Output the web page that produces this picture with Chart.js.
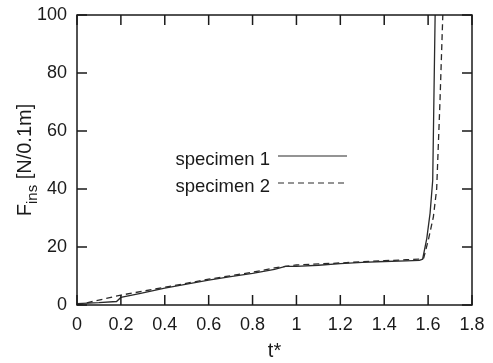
<!DOCTYPE html>
<html>
<head>
<meta charset="utf-8">
<script src="https://cdn.jsdelivr.net/npm/chart.js@4/dist/chart.umd.min.js"></script>
<style>
  body { margin: 0; background: #fff; }
  #chart { display: block; }
</style>
</head>
<body>
<canvas id="chart" width="493" height="363"></canvas>
<script>
// Insertion force vs normalised time, two specimens
const tSpecimen1 = [0, 0.1, 0.18, 0.2, 0.29, 0.4, 0.5, 0.6, 0.7, 0.8, 0.9, 0.95, 1.0, 1.1, 1.2, 1.3, 1.4, 1.5, 1.56, 1.575, 1.594, 1.609, 1.621, 1.632];
const fSpecimen1 = [0.5, 0.8, 1.2, 2.6, 4.0, 5.8, 7.2, 8.6, 9.8, 10.9, 12.3, 13.3, 13.3, 13.7, 14.3, 14.7, 15.0, 15.2, 15.4, 15.8, 23, 31.7, 43, 100];
const tSpecimen2 = [0, 0.2, 0.4, 0.6, 0.8, 0.9, 1.0, 1.2, 1.4, 1.5, 1.56, 1.58, 1.601, 1.624, 1.639, 1.654, 1.667];
const fSpecimen2 = [0, 3.4, 6.1, 8.9, 11.3, 12.8, 13.8, 14.5, 15.3, 15.6, 15.8, 16.2, 22.4, 30.4, 40, 70, 100];
const seriesLabels = ['specimen 1', 'specimen 2'];
const xTicks = [0, 0.2, 0.4, 0.6, 0.8, 1, 1.2, 1.4, 1.6, 1.8];
const yTicks = [0, 20, 40, 60, 80, 100];

const FONT = "'Liberation Sans', Arial, Helvetica, sans-serif";
const INK = '#1a1a1a';

function toPoints(xs, ys) {
    return xs.map((x, i) => ({ x: x, y: ys[i] }));
}

// frame, inside ticks on all four sides, legend and axis titles
const framePlugin = {
    id: 'frame',
    afterDraw(chart) {
        const ctx = chart.ctx;
        const a = chart.chartArea;
        const xs = chart.scales.x;
        const ys = chart.scales.y;
        const tick = 10;
        ctx.save();
        ctx.strokeStyle = INK;
        ctx.lineWidth = 1.5;
        ctx.strokeRect(a.left, a.top, a.right - a.left, a.bottom - a.top);
        ctx.beginPath();
        xTicks.forEach(v => {
            const px = xs.getPixelForValue(v);
            ctx.moveTo(px, a.bottom); ctx.lineTo(px, a.bottom - tick);
            ctx.moveTo(px, a.top); ctx.lineTo(px, a.top + tick);
        });
        yTicks.forEach(v => {
            const py = ys.getPixelForValue(v);
            ctx.moveTo(a.left, py); ctx.lineTo(a.left + tick, py);
            ctx.moveTo(a.right, py); ctx.lineTo(a.right - tick, py);
        });
        ctx.stroke();

        // legend: text right-aligned, line sample to the right
        ctx.fillStyle = INK;
        ctx.font = '18.5px ' + FONT;
        ctx.textAlign = 'right';
        ctx.textBaseline = 'middle';
        const rows = [160, 187];
        chart.data.datasets.forEach((ds, i) => {
            ctx.fillText(ds.label, 270, rows[i]);
            ctx.beginPath();
            ctx.setLineDash(ds.borderDash || []);
            ctx.strokeStyle = ds.borderColor;
            ctx.lineWidth = 1.2;
            ctx.moveTo(278, rows[i] - 4);
            ctx.lineTo(347, rows[i] - 4);
            ctx.stroke();
        });
        ctx.setLineDash([]);

        // x title
        ctx.font = '20px ' + FONT;
        ctx.textAlign = 'center';
        ctx.textBaseline = 'alphabetic';
        ctx.fillText('t*', (a.left + a.right) / 2, 357);

        // y title with subscript
        ctx.translate(31, (a.top + a.bottom) / 2);
        ctx.rotate(-Math.PI / 2);
        const big = '20px ' + FONT;
        const small = '15px ' + FONT;
        ctx.font = big;
        const wF = ctx.measureText('F').width;
        const wRest = ctx.measureText(' [N/0.1m]').width;
        ctx.font = small;
        const wSub = ctx.measureText('ins').width;
        let x0 = -(wF + wSub + wRest) / 2;
        ctx.textAlign = 'left';
        ctx.font = big;
        ctx.fillText('F', x0, 0);
        ctx.font = small;
        ctx.fillText('ins', x0 + wF, 6);
        ctx.font = big;
        ctx.fillText(' [N/0.1m]', x0 + wF + wSub, 0);
        ctx.restore();
    }
};

new Chart(document.getElementById('chart'), {
    type: 'scatter',
    data: {
        datasets: [{
            label: seriesLabels[0],
            data: toPoints(tSpecimen1, fSpecimen1),
            showLine: true,
            borderColor: '#2a2a2a',
            borderWidth: 1.3,
            pointRadius: 0,
            tension: 0
        }, {
            label: seriesLabels[1],
            data: toPoints(tSpecimen2, fSpecimen2),
            showLine: true,
            borderColor: '#2a2a2a',
            borderWidth: 1.3,
            borderDash: [6, 4],
            pointRadius: 0,
            tension: 0
        }]
    },
    options: {
        responsive: false,
        animation: false,
        layout: { padding: { left: 0, top: 15, right: 21, bottom: 0 } },
        plugins: { legend: { display: false }, tooltip: { enabled: false } },
        scales: {
            x: {
                type: 'linear',
                min: 0,
                max: 1.8,
                afterBuildTicks: s => { s.ticks = xTicks.map(v => ({ value: v })); },
                afterFit: s => { s.height = 58; s.paddingLeft = 0; s.paddingRight = 0; },
                grid: { display: false, drawTicks: false },
                border: { display: false },
                ticks: {
                    color: INK,
                    padding: 9,
                    maxRotation: 0,
                    font: { family: FONT, size: 18 },
                    callback: v => String(+v.toFixed(1))
                }
            },
            y: {
                min: 0,
                max: 100,
                afterBuildTicks: s => { s.ticks = yTicks.map(v => ({ value: v })); },
                afterFit: s => { s.width = 77; s.paddingTop = 0; s.paddingBottom = 0; },
                grid: { display: false, drawTicks: false },
                border: { display: false },
                ticks: {
                    color: INK,
                    padding: 10,
                    font: { family: FONT, size: 18 }
                }
            }
        }
    },
    plugins: [framePlugin]
});
</script>
</body>
</html>
